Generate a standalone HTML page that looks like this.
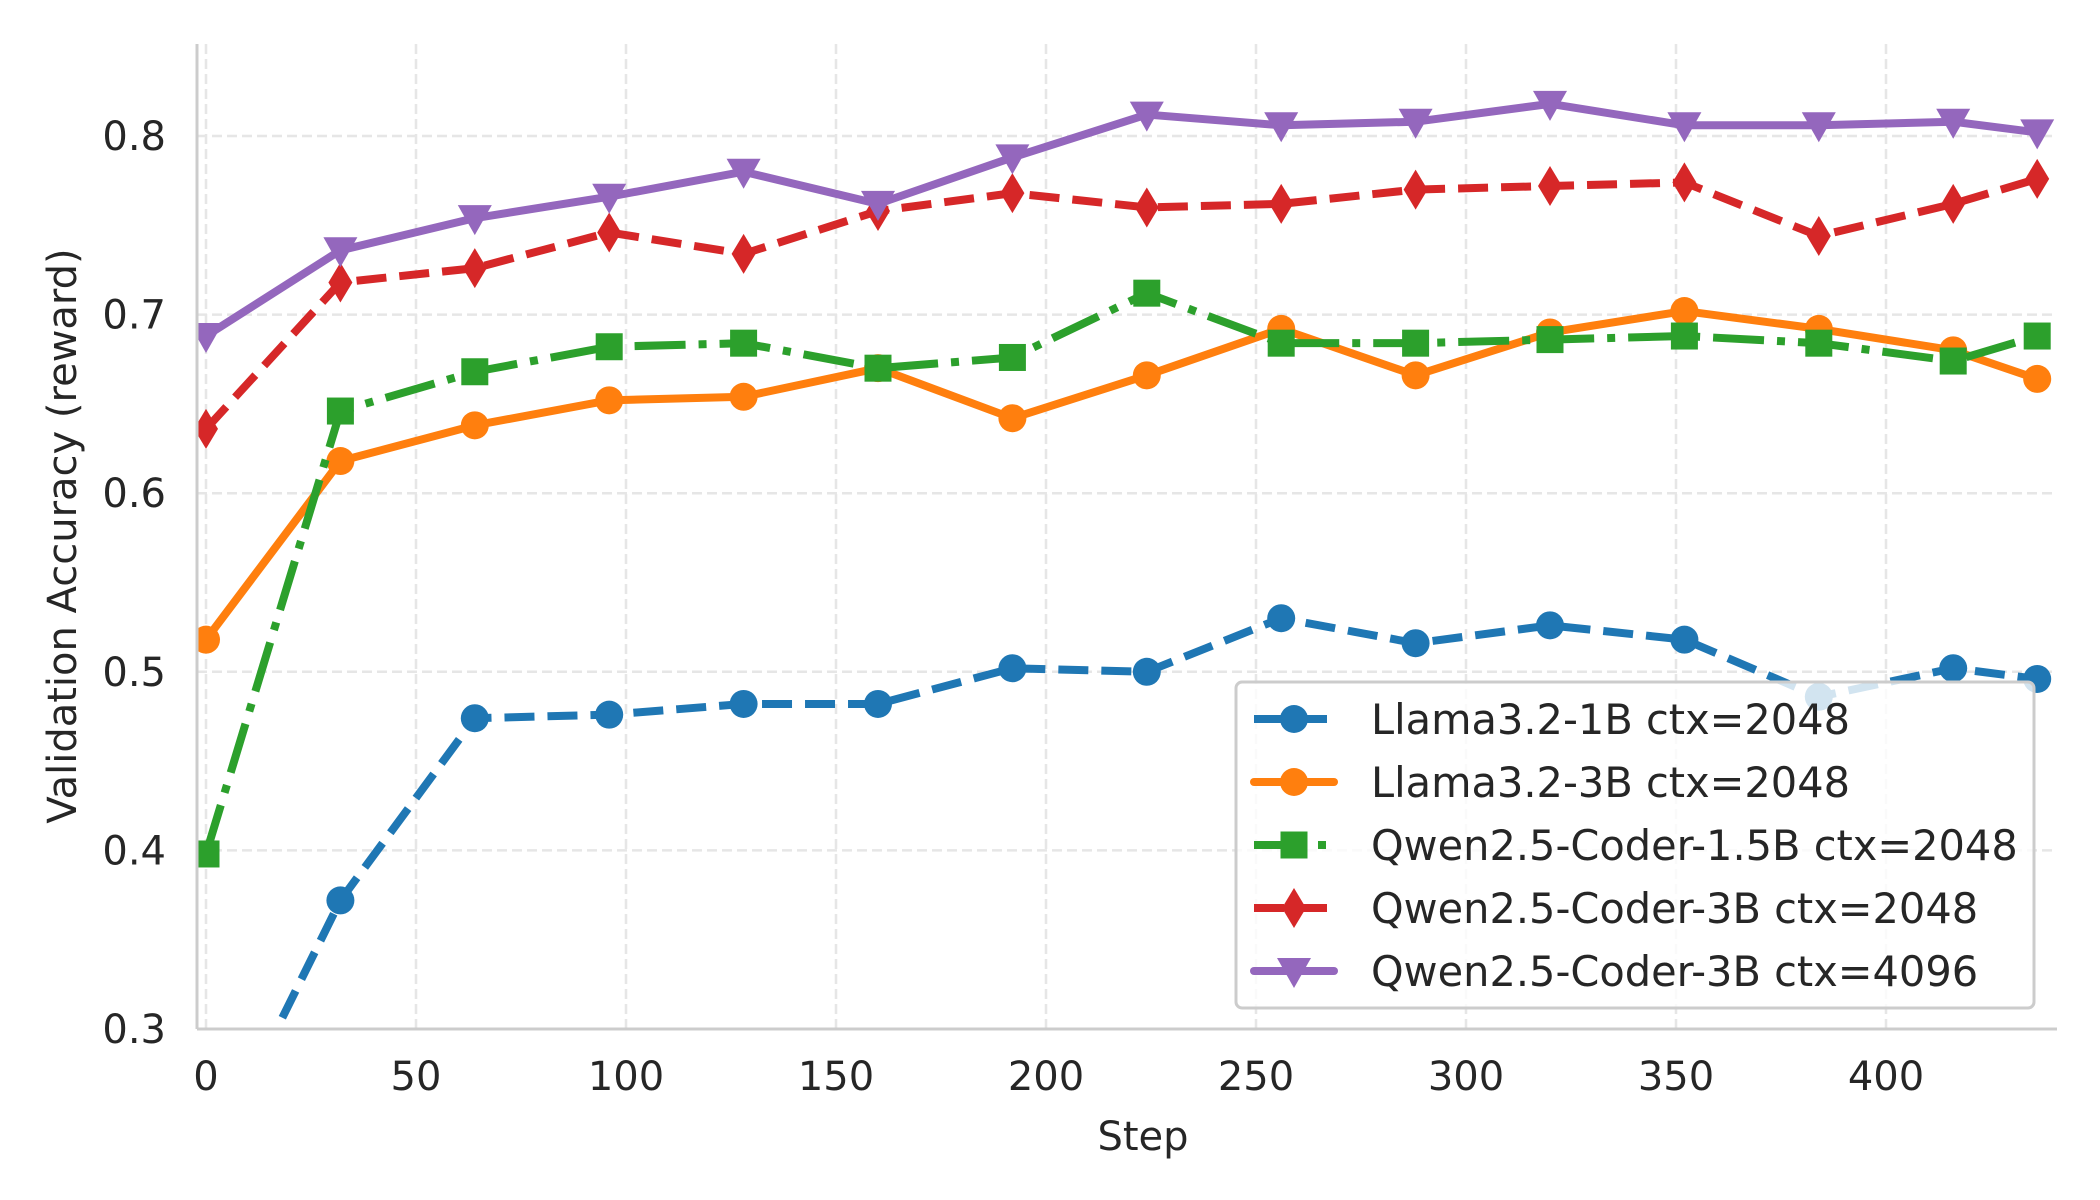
<!DOCTYPE html>
<html><head><meta charset="utf-8"><style>
html,body{margin:0;padding:0;background:#fff;}
svg{display:block;font-family:"DejaVu Sans","Liberation Sans",sans-serif;}
</style></head><body>
<svg id="s" width="2100" height="1200" viewBox="0 0 2100 1200" xmlns="http://www.w3.org/2000/svg">
<defs><clipPath id="c"><rect x="197" y="44" width="1860" height="985"/></clipPath></defs>
<g id="grid"></g>
<g id="series" clip-path="url(#c)"></g>
<line x1="197" y1="44" x2="197" y2="1029" stroke="#cccccc" stroke-width="3"/>
<line x1="197" y1="1029" x2="2057" y2="1029" stroke="#cccccc" stroke-width="3"/>
<g id="ticks" font-size="40" fill="#262626"></g>
<text x="1143" y="1150" font-size="40" fill="#262626" text-anchor="middle">Step</text>
<text transform="translate(76,536) rotate(-90)" font-size="40" fill="#262626" text-anchor="middle">Validation Accuracy (reward)</text>
<g id="legend"></g>
</svg>
<script>
var NS="http://www.w3.org/2000/svg";
function X(v){return 206+v*4.2;}
function Y(v){return 1029-(v-0.3)*1786;}
function el(t,a,p){var e=document.createElementNS(NS,t);for(var k in a)e.setAttribute(k,a[k]);p.appendChild(e);return e;}
var g=document.getElementById('grid'),tk=document.getElementById('ticks');
[0,50,100,150,200,250,300,350,400].forEach(function(v){
 el('line',{x1:X(v),x2:X(v),y1:44,y2:1029,stroke:'#e6e6e6','stroke-width':2.5,'stroke-dasharray':'10,5'},g);
 var t=el('text',{x:X(v),y:1090,'text-anchor':'middle'},tk);t.textContent=v;});
[0.3,0.4,0.5,0.6,0.7,0.8].forEach(function(v){
 el('line',{x1:197,x2:2057,y1:Y(v),y2:Y(v),stroke:'#e6e6e6','stroke-width':2.5,'stroke-dasharray':'10,5'},g);
 var t=el('text',{x:166,y:Y(v)+14,'text-anchor':'end'},tk);t.textContent=v.toFixed(1);});
var xs=[0,32,64,96,128,160,192,224,256,288,320,352,384,416,436];
var S=[
 {c:'#1f77b4',d:'30,13',m:'o',v:[0.22,0.372,0.474,0.476,0.482,0.482,0.502,0.5,0.53,0.516,0.526,0.518,0.486,0.502,0.496],n:'Llama3.2-1B ctx=2048'},
 {c:'#ff7f0e',d:'',m:'o',v:[0.518,0.618,0.638,0.652,0.654,0.670,0.642,0.666,0.692,0.666,0.690,0.702,0.692,0.680,0.664],n:'Llama3.2-3B ctx=2048'},
 {c:'#2ca02c',d:'51,13,8,13',m:'s',v:[0.398,0.646,0.668,0.682,0.684,0.670,0.676,0.712,0.684,0.684,0.686,0.688,0.684,0.674,0.688],n:'Qwen2.5-Coder-1.5B ctx=2048'},
 {c:'#d62728',d:'30,13',m:'d',v:[0.636,0.718,0.726,0.746,0.734,0.758,0.768,0.760,0.762,0.770,0.772,0.774,0.744,0.762,0.776],n:'Qwen2.5-Coder-3B ctx=2048'},
 {c:'#9467bd',d:'',m:'v',v:[0.688,0.736,0.754,0.766,0.780,0.762,0.788,0.812,0.806,0.808,0.818,0.806,0.806,0.808,0.802],n:'Qwen2.5-Coder-3B ctx=4096'}];
function mk(m,x,y,c,p){
 if(m=='o')el('circle',{cx:x,cy:y,r:14,fill:c},p);
 else if(m=='s')el('rect',{x:x-13.5,y:y-13.5,width:27,height:27,fill:c},p);
 else if(m=='d')el('polygon',{points:(x)+','+(y-20)+' '+(x+12)+','+y+' '+x+','+(y+20)+' '+(x-12)+','+y,fill:c},p);
 else el('polygon',{points:(x-17)+','+(y-13)+' '+(x+17)+','+(y-13)+' '+x+','+(y+17),fill:c},p);}
var sg=document.getElementById('series');
S.forEach(function(s){
 var pts=xs.map(function(x,i){return X(x)+','+Y(s.v[i]);}).join(' ');
 var a={points:pts,fill:'none',stroke:s.c,'stroke-width':8,'stroke-linejoin':'round'};
 if(s.d)a['stroke-dasharray']=s.d;else a['stroke-linecap']='round';
 el('polyline',a,sg);
 xs.forEach(function(x,i){mk(s.m,X(x),Y(s.v[i]),s.c,sg);});});
var lg=document.getElementById('legend');
el('rect',{x:1236,y:682,width:798,height:326,rx:6,fill:'#fff','fill-opacity':0.8,stroke:'#cccccc','stroke-width':3},lg);
S.forEach(function(s,i){var y=719+i*63;
 var a={x1:1254,x2:1334,y1:y,y2:y,stroke:s.c,'stroke-width':8};
 if(s.d)a['stroke-dasharray']=s.d;else a['stroke-linecap']='round';
 el('line',a,lg);mk(s.m,1294,y,s.c,lg);
 var t=el('text',{x:1371,y:y+15,'font-size':41.5,fill:'#262626'},lg);t.textContent=s.n;});
</script>
</body></html>
